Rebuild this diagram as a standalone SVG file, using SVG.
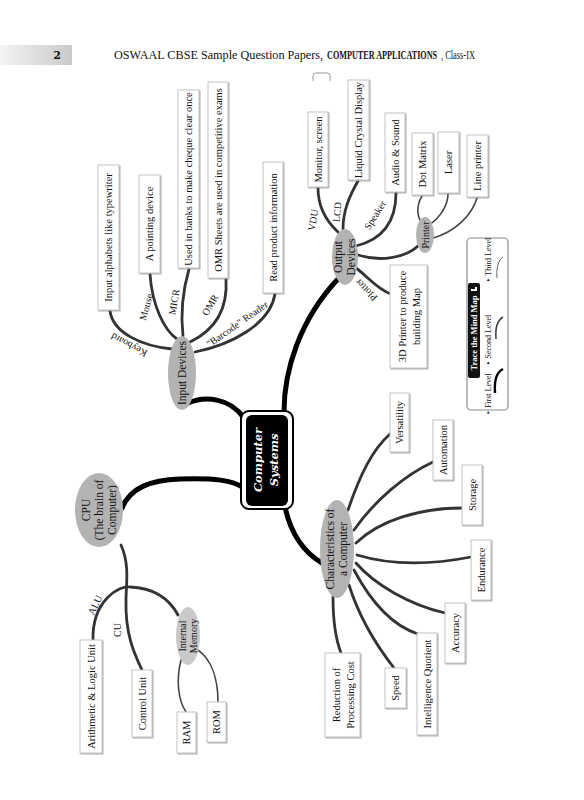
<svg xmlns="http://www.w3.org/2000/svg" width="584" height="800" viewBox="0 0 584 800">
<defs>
<linearGradient id="hdr" x1="0" y1="0" x2="1" y2="0">
<stop offset="0" stop-color="#f4f4f4"/>
<stop offset="1" stop-color="#c9c9c9"/>
</linearGradient>
<filter id="sh" x="-20%" y="-20%" width="140%" height="140%">
<feDropShadow dx="1" dy="1" stdDeviation="0.7" flood-color="#777" flood-opacity="0.6"/>
</filter>
</defs>
<style>
.bx{fill:#fff;stroke:#c4c4c4;stroke-width:1;filter:url(#sh)}
.t{font-family:"Liberation Serif","DejaVu Serif",serif;font-size:10.5px;fill:#111;text-anchor:middle}
.lb{font-family:"Liberation Serif","DejaVu Serif",serif;font-size:10px;fill:#111;text-anchor:middle}
.et{font-family:"Liberation Serif","DejaVu Serif",serif;font-size:11.5px;fill:#111;text-anchor:middle}
.el{fill:#b3b3b3}
.c2{fill:none;stroke:#333;stroke-width:2.8;stroke-linecap:round}
.c3{fill:none;stroke:#444;stroke-width:1.6;stroke-linecap:round}
.c1{fill:none;stroke:#000;stroke-width:5;stroke-linecap:round}
.lg{font-family:"Liberation Serif","DejaVu Serif",serif;font-size:8px;fill:#111;text-anchor:middle}
.hd{font-family:"Liberation Serif","DejaVu Serif",serif;fill:#111}
</style>

<g id="header">
<rect x="0" y="45" width="72" height="20" fill="url(#hdr)"/>
<text x="57" y="59" font-family="'DejaVu Serif','Liberation Serif',serif" font-size="11" font-weight="bold" text-anchor="middle" fill="#111">2</text>
<text class="hd" x="114" y="59" style="font-size:12.2px">OSWAAL CBSE Sample Question Papers,</text>
<text class="hd" transform="translate(327,59) scale(0.68,1)" style="font-size:12px;font-weight:bold">COMPUTER APPLICATIONS</text>
<text class="hd" transform="translate(441,59) scale(0.7,1)" style="font-size:12px">, Class-IX</text>
<path d="M313,81 V76 Q313,73 316,73 H327 Q330,73 330,76 V81" fill="none" stroke="#999" stroke-width="1"/>
</g>

<g id="connectors">
<!-- main -->
<path class="c1" d="M186,404 C205,395 230,398 244,418"/>
<path class="c1" d="M122,508 C130,488 150,480 180,479 C215,478 232,480 244,488"/>
<path class="c1" d="M284,412 C284,370 300,320 337,280"/>
<path class="c1" d="M285,507 C290,530 300,550 322,563"/>
<!-- input devices -->
<path class="c2" d="M172,349 C142,346 113,333 110,311"/>
<path class="c2" d="M177,339 C164,330 152,305 150,274"/>
<path class="c2" d="M183,336 C180,310 183,290 189,269"/>
<path class="c2" d="M190,342 C215,330 228,310 226,279"/>
<path class="c2" d="M195,352 C230,345 270,325 275,294"/>
<!-- output devices -->
<path class="c2" d="M338,232 C325,220 318,205 318,188"/>
<path class="c2" d="M343,229 C343,210 350,195 358,181"/>
<path class="c2" d="M356,246 C380,240 396,225 396,193"/>
<path class="c2" d="M358,255 C380,262 405,258 418,246"/>
<path class="c2" d="M356,268 C366,275 378,290 391,294"/>
<path class="c3" d="M420,220 C416,212 418,202 422,196"/>
<path class="c3" d="M430,224 C440,218 448,205 448,194"/>
<path class="c3" d="M433,238 C455,232 472,215 477,198"/>
<!-- characteristics -->
<path class="c2" d="M348,510 C360,475 372,450 390,434"/>
<path class="c2" d="M354,530 C375,500 405,475 433,462"/>
<path class="c2" d="M356,543 C380,520 420,508 462,508"/>
<path class="c2" d="M357,555 C390,565 430,565 471,557"/>
<path class="c2" d="M356,563 C375,585 410,605 445,613"/>
<path class="c2" d="M354,570 C370,600 390,625 418,634"/>
<path class="c2" d="M349,585 C360,620 380,650 394,668"/>
<path class="c2" d="M333,597 C333,620 336,640 341,653"/>
<!-- cpu -->
<path class="c2" d="M121,545 C130,565 126,585 126,600 C125,635 135,655 142,670"/>
<path class="c2" d="M93,640 C92,600 120,585 130,587 C155,588 170,600 178,615"/>
<path class="c3" d="M181,660 C176,680 178,700 186,712" stroke-width="2"/>
<path class="c3" d="M198,650 C212,660 218,680 218,702" stroke-width="2"/>
</g>

<g id="edge-labels">
<text class="lb" transform="translate(129,345) rotate(208)" dy="0.35em">Keyboard</text>
<text class="lb" transform="translate(146,307) rotate(-75)" dy="0.35em">Mouse</text>
<text class="lb" transform="translate(174,302) rotate(-80)" dy="0.35em">MICR</text>
<text class="lb" transform="translate(210,305) rotate(-60)" dy="0.35em">OMR</text>
<text class="lb" transform="translate(237,324) rotate(-35)" dy="0.35em">"Barcode" Reader</text>
<text class="lb" transform="translate(313,220) rotate(-80)" dy="0.35em">VDU</text>
<text class="lb" transform="translate(337,212) rotate(-85)" dy="0.35em">LCD</text>
<text class="lb" transform="translate(375,215) rotate(-58)" dy="0.35em">Speaker</text>
<text class="lb" transform="translate(366,290) rotate(225)" dy="0.35em">Plotter</text>
<text class="lb" transform="translate(95,605) rotate(-65)" dy="0.35em">ALU</text>
<text class="lb" transform="translate(117,630) rotate(-90)" dy="0.35em">CU</text>
</g>

<g id="center">
<rect x="241" y="411" width="52" height="98" rx="8" fill="#fff" stroke="#000" stroke-width="2"/>
<rect x="246" y="415" width="42" height="91" rx="6" fill="#000"/>
<text transform="translate(266,460) rotate(-90)" font-family="'DejaVu Serif','Liberation Serif',serif" font-style="italic" font-weight="bold" font-size="11.5" fill="#fff" text-anchor="middle"><tspan x="0" y="-4">Computer</tspan><tspan x="0" y="12">Systems</tspan></text>
</g>

<g id="input-devices">
<ellipse class="el" cx="182" cy="373" rx="14" ry="37"/>
<text class="et" transform="translate(182,373) rotate(-90)" dy="0.35em">Input Devices</text>
</g>
<g id="n-keyboard"><rect class="bx" x="98" y="165" width="21" height="145"/><text class="t" transform="translate(108.5,237.5) rotate(-90)" dy="0.35em">Input alphabets like typewriter</text></g>
<g id="n-mouse"><rect class="bx" x="139" y="175" width="21" height="98"/><text class="t" transform="translate(149.5,224) rotate(-90)" dy="0.35em">A pointing device</text></g>
<g id="n-micr"><rect class="bx" x="178" y="90" width="21" height="178"/><text class="t" transform="translate(188.5,179) rotate(-90)" dy="0.35em">Used in banks to make cheque clear once</text></g>
<g id="n-omr"><rect class="bx" x="208" y="82" width="20" height="196"/><text class="t" transform="translate(218,180) rotate(-90)" dy="0.35em">OMR Sheets are used in competitive exams</text></g>
<g id="n-barcode"><rect class="bx" x="263" y="162" width="20" height="131"/><text class="t" transform="translate(273,227.5) rotate(-90)" dy="0.35em">Read product information</text></g>

<g id="output-devices">
<ellipse class="el" cx="345" cy="257" rx="13" ry="28"/>
<text class="et" transform="translate(345,257) rotate(-90)"><tspan x="0" dy="-0.25em">Output</tspan><tspan x="0" dy="1.1em">Devices</tspan></text>
</g>
<g id="n-vdu"><rect class="bx" x="308" y="112" width="20" height="75"/><text class="t" transform="translate(318,149.5) rotate(-90)" dy="0.35em">Monitor, screen</text></g>
<g id="n-lcd"><rect class="bx" x="348" y="80" width="21" height="100"/><text class="t" transform="translate(358.5,130) rotate(-90)" dy="0.35em">Liquid Crystal Display</text></g>
<g id="n-speaker"><rect class="bx" x="385" y="113" width="20" height="79"/><text class="t" transform="translate(395,152.5) rotate(-90)" dy="0.35em">Audio &amp; Sound</text></g>
<g id="printer"><ellipse class="el" cx="425" cy="235" rx="9" ry="18"/><text class="lb" transform="translate(425,235) rotate(-90)" dy="0.35em">Printer</text></g>
<g id="n-dot"><rect class="bx" x="412" y="133" width="21" height="62"/><text class="t" transform="translate(422.5,164) rotate(-90)" dy="0.35em">Dot Matrix</text></g>
<g id="n-laser"><rect class="bx" x="438" y="132" width="21" height="61"/><text class="t" transform="translate(448.5,162.5) rotate(-90)" dy="0.35em">Laser</text></g>
<g id="n-line"><rect class="bx" x="467" y="135" width="21" height="62"/><text class="t" transform="translate(477.5,166) rotate(-90)" dy="0.35em">Line printer</text></g>
<g id="n-plotter"><rect class="bx" x="390" y="265" width="37" height="103"/><text class="t" transform="translate(408.5,316.5) rotate(-90)"><tspan x="0" dy="-0.2em">3D Printer to produce</tspan><tspan x="0" dy="1.25em">building Map</tspan></text></g>

<g id="legend">
<rect x="467" y="238" width="41" height="172" rx="4" fill="#fff" stroke="#8a8a8a" stroke-width="1.2"/>
<rect x="468" y="283" width="12" height="95" rx="2" fill="#111"/>
<text transform="translate(474.5,333) rotate(-90)" font-family="'Liberation Serif','DejaVu Serif',serif" font-size="8.5" font-weight="bold" fill="#fff" text-anchor="middle" dy="0.35em">Trace the  Mind Map</text>
<path d="M471,291 h6 v-4 h-2 v2 h-4 z" fill="#fff"/>
<text class="lg" transform="translate(488,394) rotate(-90)" dy="0.35em">‣ First Level</text>
<text class="lg" transform="translate(488,340) rotate(-90)" dy="0.35em">‣ Second Level</text>
<text class="lg" transform="translate(488,260) rotate(-90)" dy="0.35em">‣ Third Level</text>
<path d="M495,393 C494,380 497,372 503,369" fill="none" stroke="#000" stroke-width="2.4"/>
<path d="M496,339 C495,327 498,320 503,317" fill="none" stroke="#444" stroke-width="1.6"/>
<path d="M497,278 C496,266 499,260 503,257" fill="none" stroke="#666" stroke-width="1"/>
</g>

<g id="characteristics">
<ellipse class="el" cx="337" cy="549" rx="17" ry="49"/>
<text class="et" transform="translate(337,549) rotate(-90)"><tspan x="0" dy="-0.25em">Characteristics of</tspan><tspan x="0" dy="1.15em">a Computer</tspan></text>
</g>
<g id="n-versatility"><rect class="bx" x="390" y="393" width="19" height="59"/><text class="t" transform="translate(399.5,422.5) rotate(-90)" dy="0.35em">Versatility</text></g>
<g id="n-automation"><rect class="bx" x="433" y="420" width="20" height="60"/><text class="t" transform="translate(443,450) rotate(-90)" dy="0.35em">Automation</text></g>
<g id="n-storage"><rect class="bx" x="462" y="465" width="20" height="60"/><text class="t" transform="translate(472,495) rotate(-90)" dy="0.35em">Storage</text></g>
<g id="n-endurance"><rect class="bx" x="471" y="540" width="20" height="60"/><text class="t" transform="translate(481,570) rotate(-90)" dy="0.35em">Endurance</text></g>
<g id="n-accuracy"><rect class="bx" x="445" y="603" width="20" height="60"/><text class="t" transform="translate(455,633) rotate(-90)" dy="0.35em">Accuracy</text></g>
<g id="n-iq"><rect class="bx" x="417" y="633" width="20" height="102"/><text class="t" transform="translate(427,684) rotate(-90)" dy="0.35em">Intelligence Quotient</text></g>
<g id="n-speed"><rect class="bx" x="385" y="668" width="21" height="40"/><text class="t" transform="translate(395.5,688) rotate(-90)" dy="0.35em">Speed</text></g>
<g id="n-reduction"><rect class="bx" x="325" y="653" width="35" height="84"/><text class="t" transform="translate(342.5,695) rotate(-90)"><tspan x="0" dy="-0.2em">Reduction of</tspan><tspan x="0" dy="1.25em">Processing Cost</tspan></text></g>

<g id="cpu">
<ellipse class="el" cx="99" cy="510" rx="24" ry="37"/>
<text class="et" transform="translate(99,510) rotate(-90)"><tspan x="0" dy="-0.8em">CPU</tspan><tspan x="0" dy="1.15em">(The brain of</tspan><tspan x="0" dy="1.15em">Computer)</tspan></text>
</g>
<g id="internal-memory">
<ellipse cx="188" cy="636" rx="12" ry="29" fill="#c9c9c9"/>
<text class="lb" transform="translate(188,636) rotate(-90)"><tspan x="0" dy="-0.2em">Internal</tspan><tspan x="0" dy="1.1em">Memory</tspan></text>
</g>
<g id="n-alu"><rect class="bx" x="80" y="640" width="22" height="113"/><text class="t" transform="translate(91,696.5) rotate(-90)" dy="0.35em">Arithmetic &amp; Logic Unit</text></g>
<g id="n-cu"><rect class="bx" x="132" y="670" width="20" height="67"/><text class="t" transform="translate(142,703.5) rotate(-90)" dy="0.35em">Control Unit</text></g>
<g id="n-ram"><rect class="bx" x="177" y="712" width="19" height="41"/><text class="t" transform="translate(186.5,732.5) rotate(-90)" dy="0.35em">RAM</text></g>
<g id="n-rom"><rect class="bx" x="207" y="702" width="19" height="40"/><text class="t" transform="translate(216.5,722) rotate(-90)" dy="0.35em">ROM</text></g>
</svg>
